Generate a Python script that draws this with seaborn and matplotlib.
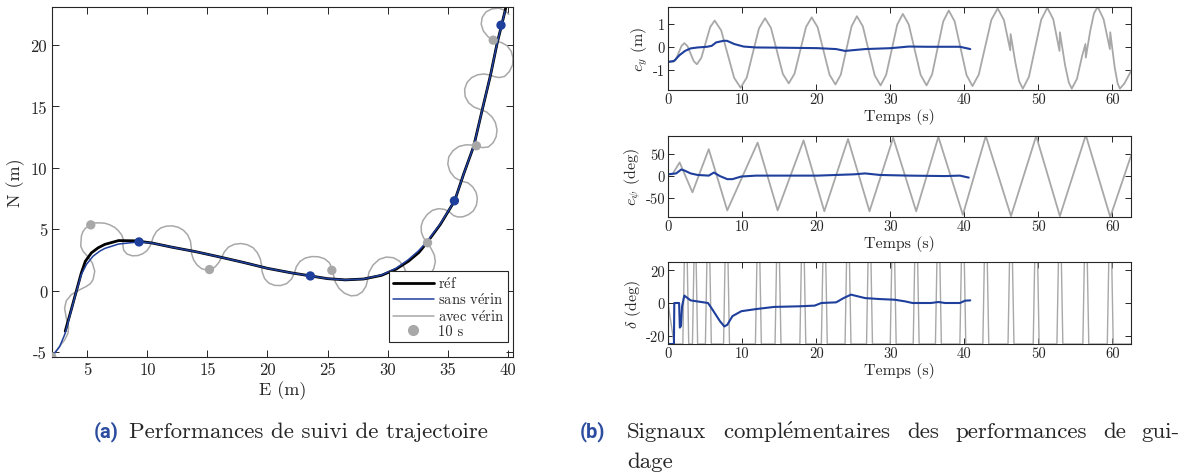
import numpy as np
import pandas as pd
import matplotlib
matplotlib.use("Agg")
import matplotlib.pyplot as plt
import seaborn as sns
from matplotlib.lines import Line2D

# ---- trajectory (E, N in m) ----
ref_E = [3.15, 3.65, 4.07, 4.49, 4.83, 5.33, 5.89, 6.45, 7.60, 9.00, 10.40, 12.0, 14.0, 16.0,
         18.0, 20.0, 22.0, 23.6, 25.0, 26.5, 28.0, 29.5, 30.7, 31.74, 32.6, 33.27, 34.4, 35.59,
         36.34, 37.18, 37.88, 38.58, 39.13, 39.5, 39.78, 39.9]
ref_N = [-3.30, -1.56, -0.06, 1.44, 2.40, 3.08, 3.49, 3.77, 4.08, 4.06, 3.88, 3.55, 3.18, 2.75,
         2.30, 1.82, 1.45, 1.20, 0.98, 0.88, 0.95, 1.25, 1.75, 2.40, 3.10, 3.90, 5.40, 7.32,
         9.50, 11.77, 14.70, 17.56, 20.16, 21.61, 22.75, 23.30]

sans_E = [2.03, 2.68, 3.15, 3.65, 4.07, 4.49, 4.91, 5.47, 6.03, 6.45, 7.60, 9.30, 10.40, 12.0,
          14.0, 16.0, 18.0, 20.0, 22.0, 23.6, 25.0, 26.5, 28.0, 29.5, 30.7, 31.7, 32.55, 33.25,
          34.4, 35.59, 36.34, 37.18, 37.88, 38.58, 39.13, 39.5, 39.78]
sans_N = [-5.39, -4.57, -3.47, -1.60, -0.10, 1.31, 2.13, 2.81, 3.22, 3.44, 3.80, 3.97, 3.88, 3.55,
          3.18, 2.75, 2.30, 1.82, 1.45, 1.20, 0.98, 0.88, 0.95, 1.28, 1.82, 2.50, 3.22, 3.95,
          5.45, 7.32, 9.50, 11.77, 14.70, 17.56, 20.16, 21.61, 22.75]

avec_E = [2.03, 2.54, 3.10, 3.38, 3.43, 3.24, 3.10, 3.24, 3.65, 4.21,
          4.91, 5.25, 5.47, 5.61, 5.41, 5.00, 4.63,
          4.44, 4.50, 4.62, 4.83, 5.28, 5.62, 6.03, 6.47, 6.87, 7.28, 7.60, 7.86, 7.99,
          7.95, 8.02, 8.30, 8.74, 9.20, 9.60, 9.95, 10.20, 10.36,
          10.50, 10.75, 11.10, 11.55, 12.05, 12.55, 13.00, 13.35, 13.58, 13.65,
          13.68, 13.85, 14.13, 14.50, 14.90, 15.30, 15.65, 15.95, 16.20,
          16.40, 16.75, 17.25, 17.77, 18.30, 18.80, 19.15, 19.40, 19.50,
          19.55, 19.75, 20.10, 20.60, 21.10, 21.60, 22.00, 22.25,
          22.40, 22.70, 23.15, 23.70, 24.25, 24.75, 25.15, 25.38, 25.50,
          25.65, 25.95, 26.40, 26.95, 27.45, 27.90, 28.20, 28.33,
          28.45, 28.80, 29.30, 29.90, 30.50, 31.00, 31.35, 31.55,
          31.80, 32.20, 32.65, 33.10, 33.55, 33.85, 33.98, 33.90, 33.65, 33.33,
          33.00, 32.82, 32.80, 32.95, 33.30, 33.75, 34.25, 34.75, 35.20, 35.50,
          35.85, 36.30, 36.75, 37.15, 37.40, 37.48, 37.38, 37.10, 36.70, 36.15,
          35.60, 35.20, 35.02, 35.10, 35.45, 35.95, 36.55, 37.10, 37.46,
          37.90, 38.40, 38.80, 39.05, 39.12, 38.98, 38.70, 38.25, 37.74,
          37.20, 36.75, 36.47, 36.42, 36.62, 37.00, 37.50, 38.05, 38.55, 38.90,
          39.30, 39.75, 40.15, 40.42, 40.45, 40.30, 39.95, 39.50, 39.13,
          38.80, 38.35, 37.98, 37.80, 37.88, 38.20, 38.70, 39.25, 39.75, 40.10]
avec_N = [-5.39, -4.70, -4.02, -3.47, -2.93, -2.24, -1.42, -0.82, -0.33, 0.00,
          0.35, 0.58, 0.90, 1.58, 2.26, 2.81, 3.22,
          3.63, 4.45, 4.80, 5.08, 5.41, 5.52, 5.52, 5.49, 5.36, 5.15, 4.86, 4.53, 4.18,
          3.75, 3.30, 2.98, 2.84, 2.86, 3.00, 3.25, 3.60, 3.99,
          4.40, 4.82, 5.10, 5.25, 5.28, 5.17, 4.92, 4.55, 4.05, 3.50,
          3.00, 2.50, 2.10, 1.80, 1.68, 1.72, 1.95, 2.30, 2.75,
          3.15, 3.55, 3.78, 3.84, 3.75, 3.50, 3.10, 2.60, 2.10,
          1.55, 1.00, 0.62, 0.43, 0.42, 0.58, 0.95, 1.45,
          1.95, 2.38, 2.66, 2.78, 2.76, 2.60, 2.28, 1.80, 1.25,
          0.70, 0.20, -0.20, -0.42, -0.38, -0.10, 0.35, 0.85,
          1.50, 2.10, 2.55, 2.74, 2.68, 2.40, 1.95, 1.50,
          1.10, 0.92, 0.88, 0.98, 1.30, 1.80, 2.35, 2.90, 3.40, 3.90,
          4.30, 4.75, 5.25, 5.72, 6.20, 6.55, 6.68, 6.62, 6.38, 6.12,
          6.00, 6.02, 6.20, 6.50, 6.95, 7.50, 8.00, 8.45, 8.78, 8.92,
          9.20, 9.70, 10.30, 10.90, 11.40, 11.75, 11.88, 11.85, 11.77,
          11.65, 11.70, 12.05, 12.55, 13.10, 13.70, 14.15, 14.55, 14.75,
          14.95, 15.30, 15.80, 16.40, 16.95, 17.35, 17.58, 17.65, 17.55, 17.43,
          17.35, 17.45, 17.85, 18.40, 18.95, 19.50, 19.95, 20.20, 20.30,
          20.38, 20.70, 21.15, 21.70, 22.25, 22.70, 22.95, 23.00, 22.85, 22.50]

sans_dot_E = [9.30, 23.57, 35.57, 39.45]
sans_dot_N = [3.97, 1.20, 7.32, 21.62]
avec_dot_E = [2.03, 5.28, 15.17, 25.36, 33.33, 37.40, 38.80]
avec_dot_N = [-5.39, 5.36, 1.72, 1.66, 3.90, 11.80, 20.40]

# ---- time signals ----
ey_gray_t = [0, 0.7, 1.08, 1.45, 1.83, 2.2, 2.63, 3.05, 3.48, 3.9, 4.5, 5.1, 5.7, 6.3, 7.18,
             8.05, 8.93, 9.8, 10.63, 11.45, 12.28, 13.1, 13.9, 14.7, 15.5, 16.3, 17.08, 17.85,
             18.63, 19.4, 20.2, 21.0, 21.8, 22.6, 23.33, 24.05, 24.78, 25.5, 26.3, 27.1, 27.9,
             28.7, 29.45, 30.2, 30.95, 31.7, 32.5, 33.3, 34.1, 34.9, 35.65, 36.4, 37.15, 37.9,
             38.7, 39.5, 40.3, 41.1, 41.95, 42.8, 43.65, 44.5, 45.35, 46.2, 46.25, 46.9, 47.4,
             47.9, 48.73, 49.55, 50.38, 51.2, 52.0, 52.85, 52.9, 53.6, 54.1, 54.5, 55.2, 55.9,
             56.35, 56.4, 57.0, 57.5, 58.0, 58.8, 59.65, 59.7, 60.3, 60.7, 61.0, 61.6, 62.6]
ey_gray_v = [-0.66, -0.66, -0.54, -0.25, 0.04, 0.16, 0.03, -0.30, -0.63, -0.76, -0.48, 0.19,
             0.86, 1.14, 0.71, -0.32, -1.35, -1.78, -1.34, -0.27, 0.80, 1.24, 0.82, -0.18,
             -1.18, -1.59, -1.17, -0.16, 0.86, 1.28, 0.85, -0.18, -1.21, -1.64, -1.21, -0.16,
             0.89, 1.33, 0.89, -0.18, -1.24, -1.68, -1.22, -0.13, 0.97, 1.43, 0.97, -0.13,
             -1.22, -1.68, -1.20, -0.05, 1.10, 1.58, 1.10, -0.07, -1.23, -1.71, -1.21, -0.02,
             1.17, 1.67, 1.16, -0.15, 0.55, -0.70, -1.50, -1.82, -1.30, -0.06, 1.18, 1.70,
             1.20, -0.18, 0.63, -0.80, -1.55, -1.82, -1.40, -0.40, 0.12, -0.47, 0.70, 1.45,
             1.74, 1.20, -0.10, 0.63, -0.90, -1.60, -1.82, -1.60, -1.00]
ey_blue_t = [0, 0.84, 1.57, 2.3, 3.05, 4.0, 5.26, 5.9, 6.5, 7.5, 7.96, 8.94, 10.2, 11.9, 15.3,
             20.2, 22.7, 23.9, 24.9, 26.6, 30.1, 32.5, 35.0, 39.4, 40.4, 40.8]
ey_blue_v = [-0.66, -0.61, -0.36, -0.18, -0.07, -0.03, 0.0, 0.04, 0.19, 0.26, 0.26, 0.12, 0.01,
             -0.03, -0.04, -0.06, -0.10, -0.18, -0.15, -0.10, -0.06, 0.01, 0.0, 0.0, -0.07, -0.10]

epsi_gray_t = [0, 0.6, 1.57, 3.3, 5.5, 8.0, 12.1, 14.8, 18.3, 21.1, 24.3, 27.2, 30.4, 33.5,
               36.5, 39.8, 42.9, 46.3, 49.7, 52.9, 56.4, 59.7, 62.6]
epsi_gray_v = [3, 3, 30, -38, 60, -79, 75, -79, 80, -81, 83, -81, 86, -81, 88, -89, 90, -92,
               90, -92, 92, -94, 50]
epsi_blue_t = [0, 1.1, 1.8, 2.3, 3.05, 4.0, 5.5, 6.2, 7.0, 8.0, 8.7, 9.9, 11.9, 17.8, 20.2,
               25.2, 26.6, 28.6, 32.5, 37.4, 39.4, 40.6]
epsi_blue_v = [3, 5, 14, 11, 5, 1.5, 0, 7, -1, -8, -8, -2, 0, 0, 0, 3, 5, 1.5, 0, -1, 0, -4.5]

# steering saturates at +/-25 deg; short pulses around each heading-error extremum
delta_gray_t = [0, 0.6, 0.85,
                2.0, 2.2, 2.6, 2.8, 3.3, 3.5, 3.8, 4.0, 5.05, 5.25, 5.65, 5.85,
                7.5, 7.7, 8.1, 8.3, 11.8, 12.0, 12.4, 12.6, 14.45, 14.65, 15.05, 15.25,
                17.8, 18.0, 18.4, 18.6, 20.7, 20.9, 21.3, 21.5, 23.9, 24.1, 24.5, 24.7,
                26.8, 27.0, 27.4, 27.6, 30.0, 30.2, 30.6, 30.8, 33.1, 33.3, 33.7, 33.9,
                36.1, 36.3, 36.7, 36.9, 39.4, 39.6, 40.0, 40.2, 42.5, 42.7, 43.1, 43.3,
                45.9, 46.1, 46.5, 46.7, 49.3, 49.5, 49.9, 50.1, 52.5, 52.7, 53.1, 53.3,
                56.0, 56.2, 56.6, 56.8, 59.3, 59.5, 59.9, 60.1, 62.6]
delta_gray_v = [0, -18, -25] + [-25, 25, 25, -25] * 20 + [-25]

delta_blue_t = [0, 0, 0.8, 0.85, 1.5, 1.6, 1.75, 1.9, 2.2, 3.05, 4.5, 5.4, 6.0, 7.0, 7.6, 8.0,
                8.7, 9.9, 11.9, 14.3, 17.8, 19.8, 20.7, 22.7, 23.7, 24.7, 25.6, 26.6, 28.6,
                30.6, 32.0, 33.0, 35.5, 36.5, 37.4, 39.4, 40.1, 40.8]
delta_blue_v = [25, -25, -25, 0, 0, -15, -14, -2, 4.5, 1.6, 0.6, 0, -4, -11, -14.3, -13.3, -8,
                -5, -3.7, -2.4, -2, -1.6, 0, 0.4, 3, 5.1, 4.1, 3, 2.4, 2, 1, 0, 0, 0.6, 0, 0,
                1.4, 1.6]

BLUE = "#1f3f9c"
GRAY = "#a8a8a8"
EACUTE = r"$\mathrm{\acute{e}}$"

sns.set_theme(style="ticks")
plt.rcParams["font.family"] = ["cmr10", "DejaVu Serif"]
plt.rcParams["mathtext.fontset"] = "cm"
plt.rcParams["axes.unicode_minus"] = False
plt.rcParams["axes.edgecolor"] = "#262626"
plt.rcParams["axes.linewidth"] = 0.8

fig = plt.figure(figsize=(11.89, 4.77), dpi=100)
W, H = 1189, 477


def box(x0, y0, x1, y1):
    return [x0 / W, 1 - y1 / H, (x1 - x0) / W, (y1 - y0) / H]


# ---- left panel ----
ax = fig.add_axes(box(52, 8, 513, 358))
sns.lineplot(x=avec_E, y=avec_N, sort=False, estimator=None, color=GRAY, lw=1.1, ax=ax)
sns.lineplot(x=ref_E, y=ref_N, sort=False, estimator=None, color="black", lw=2.0, ax=ax)
sns.lineplot(x=sans_E, y=sans_N, sort=False, estimator=None, color=BLUE, lw=1.1, ax=ax)
sns.scatterplot(x=avec_dot_E, y=avec_dot_N, color=GRAY, s=45, edgecolor="none", ax=ax, zorder=5)
sns.scatterplot(x=sans_dot_E, y=sans_dot_N, color=BLUE, s=45, edgecolor="none", ax=ax, zorder=5)
ax.set_xlim(2.05, 40.45)
ax.set_ylim(-5.4, 23.1)
ax.set_xticks(range(5, 41, 5))
ax.set_yticks(range(-5, 21, 5))
ax.tick_params(direction="in", top=True, right=True, labelsize=12, length=5, width=0.7)
ax.set_xlabel("E (m)", fontsize=13, labelpad=2)
ax.set_ylabel("N (m)", fontsize=13, labelpad=4)
handles = [Line2D([], [], color="black", lw=2.0),
           Line2D([], [], color=BLUE, lw=1.1),
           Line2D([], [], color=GRAY, lw=1.1),
           Line2D([], [], color=GRAY, lw=0, marker="o", ms=7)]
labels = ["r" + EACUTE + "f", "sans v" + EACUTE + "rin", "avec v" + EACUTE + "rin", "10 s"]
leg = ax.legend(handles, labels, loc="lower right",
                bbox_to_anchor=(0.99, 0.043), borderaxespad=0, fontsize=10.5,
                handlelength=2.8, handletextpad=0.3, labelspacing=0.05, borderpad=0.25,
                fancybox=False, framealpha=1)
leg.get_frame().set_edgecolor("#262626")
leg.get_frame().set_linewidth(0.8)

# ---- right panels ----
panels = [
    (box(668, 8, 1131, 91), ey_gray_t, ey_gray_v, ey_blue_t, ey_blue_v,
     (-1.88, 1.73), [-1, 0, 1], "$e_y$ (m)", 1.3),
    (box(668, 137, 1131, 218), epsi_gray_t, epsi_gray_v, epsi_blue_t, epsi_blue_v,
     (-94, 90), [-50, 0, 50], "$e_\\psi$ (deg)", 1.3),
    (box(668, 263, 1131, 345), delta_gray_t, delta_gray_v, delta_blue_t, delta_blue_v,
     (-25, 25), [-20, 0, 20], "$\\delta$ (deg)", 1.0),
]
for rect, gt, gv, bt, bv, ylim, yt, ylab, glw in panels:
    a = fig.add_axes(rect)
    sns.lineplot(x=gt, y=gv, sort=False, estimator=None, color=GRAY, lw=glw, ax=a)
    sns.lineplot(x=bt, y=bv, sort=False, estimator=None, color=BLUE, lw=1.5, ax=a)
    a.set_xlim(0, 62.5)
    a.set_ylim(*ylim)
    a.set_xticks(range(0, 61, 10))
    a.set_yticks(yt)
    a.tick_params(direction="in", top=True, right=True, labelsize=10.5, length=4, width=0.7,
                  pad=2)
    a.set_xlabel("Temps (s)", fontsize=11.5, labelpad=1)
    a.set_ylabel(ylab, fontsize=11.5, labelpad=2)

# ---- captions ----
cap = dict(fontsize=16.5, va="center")
sub = dict(family="Roboto", weight="bold", color="#2b4c9f", fontsize=14.5, va="center")
fig.text(94 / W, 1 - 432 / H, "(a)", **sub)
fig.text(129 / W, 1 - 432 / H, "Performances de suivi de trajectoire", **cap)
fig.text(580 / W, 1 - 432 / H, "(b)", **sub)

# justified first line of caption (b)
words = ["Signaux", "compl" + EACUTE + "mentaires", "des", "performances", "de", "gui-"]
x_start, x_end = 627, 1180
txts = [fig.text(0, 1 - 432 / H, w, **cap) for w in words]
fig.canvas.draw()
r = fig.canvas.get_renderer()
widths = [t.get_window_extent(r).width for t in txts]
gap = (x_end - x_start - sum(widths)) / (len(words) - 1)
x = x_start
for t, w in zip(txts, widths):
    t.set_x(x / W)
    x += w + gap
fig.text(627 / W, 1 - 462 / H, "dage", **cap)

fig.savefig("out.png", dpi=100)
